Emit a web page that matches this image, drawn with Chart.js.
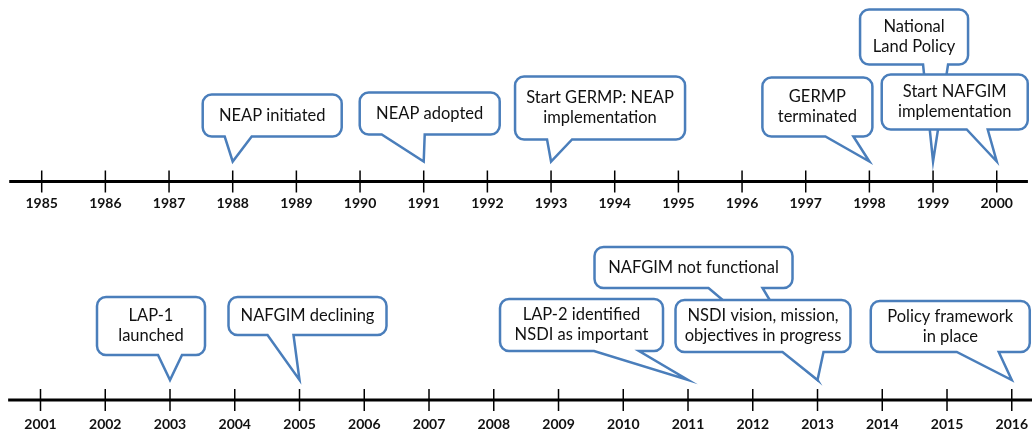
<!DOCTYPE html>
<html><head><meta charset="utf-8">
<script src="https://cdn.jsdelivr.net/npm/chart.js@4.4.1/dist/chart.umd.min.js"></script>
<style>
html,body{margin:0;padding:0;background:#fff;}
.wrap{position:relative;width:1032px;height:215px;}
canvas{display:block;}
</style></head><body>
<div class="wrap"><canvas id="topChart"></canvas></div>
<div class="wrap"><canvas id="bottomChart"></canvas></div>
<script>
// ---------- DATA ----------
const topYears = [1985,1986,1987,1988,1989,1990,1991,1992,1993,1994,1995,1996,1997,1998,1999,2000];
const bottomYears = [2001,2002,2003,2004,2005,2006,2007,2008,2009,2010,2011,2012,2013,2014,2015,2016];
const topEventYears = [1988, 1991, 1993, 1998, 1999, 2000];
const topEventLabels = [
  ["NEAP initiated"],
  ["NEAP adopted"],
  ["Start GERMP: NEAP", "implementation"],
  ["GERMP", "terminated"],
  ["National", "Land Policy"],
  ["Start NAFGIM", "implementation"]
];
const bottomEventYears = [2003, 2005, 2011, 2013, 2013, 2016];
const bottomEventLabels = [
  ["LAP-1", "launched"],
  ["NAFGIM declining"],
  ["LAP-2 identified", "NSDI as important"],
  ["NAFGIM not functional"],
  ["NSDI vision, mission,", "objectives in progress"],
  ["Policy framework", "in place"]
];
// visible extent of each timeline (years)
const topLineExtent = [1984.49, 2000.49];
const bottomLineExtent = [2000.50, 2016.32];

// ---------- LAYOUT / STYLE (px offsets relative to the pointer tip / timeline) ----------
const topCalloutLayout = [
  {l:-30, r:109, t:87,  b:45,  bl:-8,  br:19},
  {l:-64, r:76,  t:89,  b:47,  bl:-42, br:1},
  {l:-36, r:134, t:105, b:42,  bl:-4,  br:21},
  {l:-107,r:3,   t:104, b:45,  bl:-44, br:-16},
  {l:-73, r:35,  t:172, b:117, bl:-10, br:15},
  {l:-115,r:31,  t:107, b:52,  bl:-30, br:-9}
];
const bottomCalloutLayout = [
  {l:-73,  r:35,  t:103, b:45,  bl:-12, br:12},
  {l:-71,  r:87,  t:103, b:65,  bl:-32, br:-6},
  {l:-188, r:-25, t:101, b:49,  bl:-94, br:-49},
  {l:-223, r:-25, t:153, b:112, bl:-109,br:-55},
  {l:-142, r:33,  t:100, b:48,  bl:-35, br:6},
  {l:-141, r:18,  t:99,  b:48,  bl:-55, br:-13}
];
const TIP = 20;           // pointer tip height above timeline (px units of y scale)
const BLUE = '#4a7ebb';
const FONT_FAMILY = 'Lato, "Open Sans", sans-serif';

const calloutPlugin = {
  id: 'callouts',
  afterDatasetsDraw(chart, args, opts) {
    const ctx = chart.ctx;
    const xs = chart.scales.x, ys = chart.scales.y;
    ctx.save();
    opts.years.forEach((yr, i) => {
      const L = opts.layout[i];
      const tx = xs.getPixelForValue(yr);
      const ty = ys.getPixelForValue(TIP);
      const left = tx + L.l, right = tx + L.r;
      const top = ys.getPixelForValue(L.t), bot = ys.getPixelForValue(L.b);
      const r = 9;
      ctx.beginPath();
      ctx.moveTo(left + r, top);
      ctx.lineTo(right - r, top);
      ctx.arcTo(right, top, right, top + r, r);
      ctx.lineTo(right, bot - r);
      ctx.arcTo(right, bot, right - r, bot, r);
      ctx.lineTo(tx + L.br, bot);
      ctx.lineTo(tx, ty);
      ctx.lineTo(tx + L.bl, bot);
      ctx.lineTo(left + r, bot);
      ctx.arcTo(left, bot, left, bot - r, r);
      ctx.lineTo(left, top + r);
      ctx.arcTo(left, top, left + r, top, r);
      ctx.closePath();
      ctx.fillStyle = '#fff';
      ctx.fill();
      ctx.lineWidth = 2.5;
      ctx.strokeStyle = BLUE;
      ctx.lineJoin = 'miter';
      ctx.stroke();
      const lines = opts.labels[i];
      ctx.fillStyle = '#111';
      ctx.font = '16.5px ' + FONT_FAMILY;
      ctx.textAlign = 'center';
      ctx.textBaseline = 'middle';
      const lh = 20;
      const cx = (left + right) / 2, cy = (top + bot) / 2;
      lines.forEach((s, k) => {
        ctx.fillText(s, cx, cy + (k - (lines.length - 1) / 2) * lh);
      });
    });
    ctx.restore();
  }
};

function makeChart(id, years, extent, evYears, evLabels, layout, xmin, xmax, ymin, ymax, axisH) {
  return new Chart(document.getElementById(id), {
    type: 'scatter',
    data: {
      datasets: [
        {
          type: 'line',
          data: [{x: extent[0], y: 0}, {x: extent[1], y: 0}],
          borderColor: '#000', borderWidth: 3, pointRadius: 0, clip: false
        },
        {
          data: years.map(v => ({x: v, y: 0})),
          pointStyle: 'line', rotation: 90, radius: 11,
          borderColor: '#000', borderWidth: 1.5, clip: false
        }
      ]
    },
    options: {
      responsive: false, animation: false, maintainAspectRatio: false,
      layout: {padding: 0, autoPadding: false},
      plugins: {
        legend: {display: false}, tooltip: {enabled: false},
        callouts: {years: evYears, labels: evLabels, layout: layout}
      },
      scales: {
        x: {
          type: 'linear', min: xmin, max: xmax,
          grid: {display: false, drawTicks: false},
          border: {display: false},
          afterBuildTicks: s => { s.ticks = years.map(v => ({value: v})); },
          afterFit: s => { s.height = axisH; },
          ticks: {
            callback: v => String(v), padding: 3, maxRotation: 0, autoSkip: false,
            color: '#111', font: {family: FONT_FAMILY, size: 14, weight: 'bold'}
          }
        },
        y: {type: 'linear', display: false, min: ymin, max: ymax}
      }
    },
    plugins: [calloutPlugin]
  });
}

function sizeCanvas(id) {
  const c = document.getElementById(id);
  c.width = 1032; c.height = 215;
  c.style.width = '1032px'; c.style.height = '215px';
}
sizeCanvas('topChart'); sizeCanvas('bottomChart');
makeChart('topChart', topYears, topLineExtent, topEventYears, topEventLabels, topCalloutLayout,
  1984.345, 2000.554, -10.5, 181.5, 23);
makeChart('bottomChart', bottomYears, bottomLineExtent, bottomEventYears, bottomEventLabels, bottomCalloutLayout,
  2000.3745, 2016.3125, -13, 185, 17);
</script>
</body></html>
